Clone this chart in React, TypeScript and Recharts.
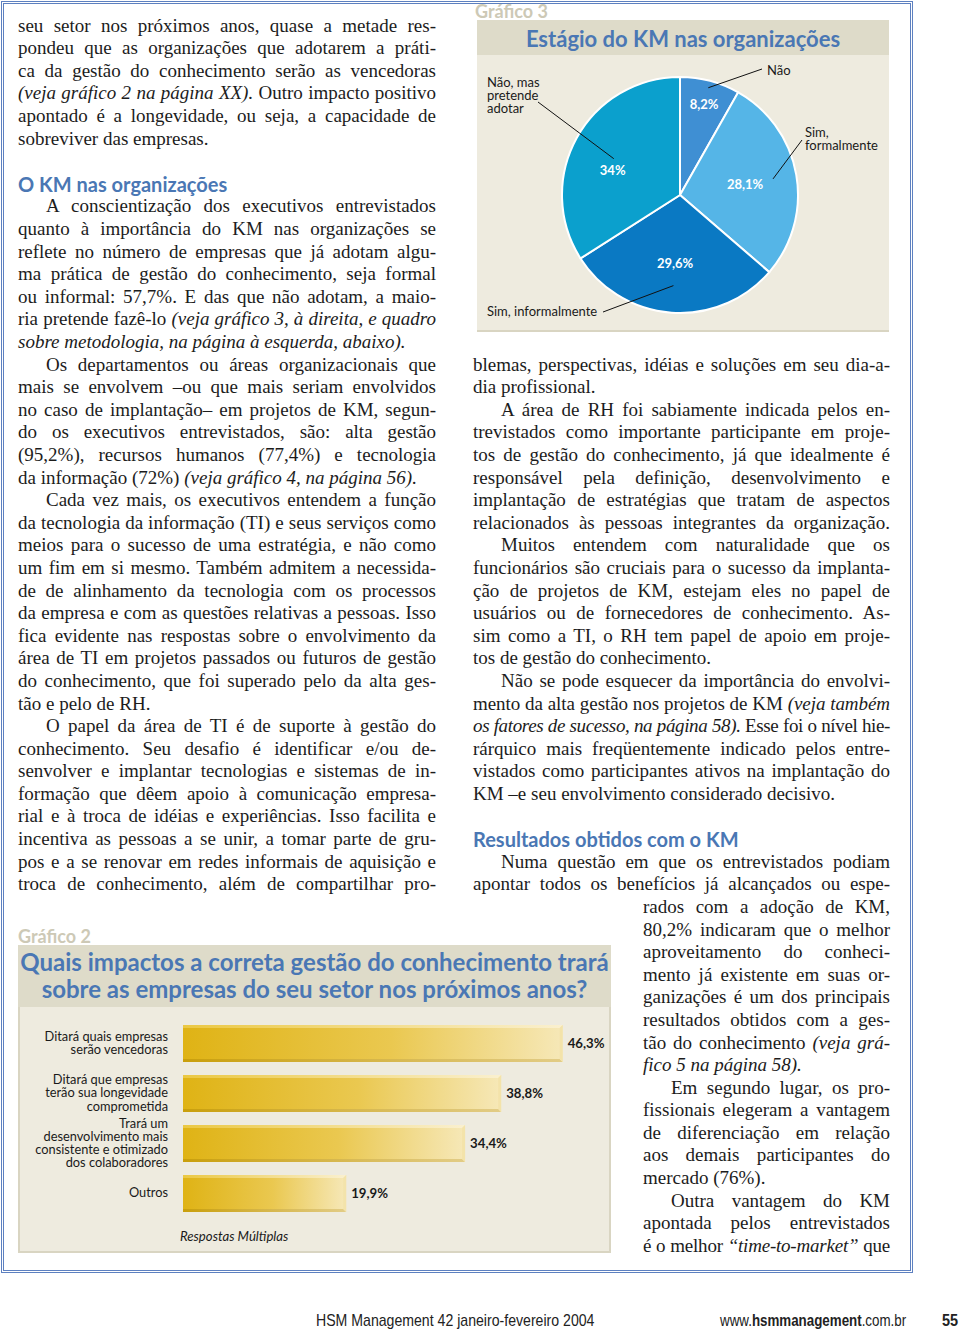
import React, { useLayoutEffect, useRef, useState } from "react";
import { PieChart, Pie, Cell, BarChart, Bar, XAxis, YAxis, LabelList } from "recharts";

// Gráfico 3 - estágio do KM
const stageNames = ["Não", "Sim,\nformalmente", "Sim, informalmente", "Não, mas\npretende\nadotar"];
const stageValues = [8.2, 28.1, 29.6, 34];
const stageLabels = ["8,2%", "28,1%", "29,6%", "34%"];
const stageColors = ["#3f8fd3", "#55b5e7", "#0a79c3", "#0ba0cd"];

// Gráfico 2 - impactos
const impactNames = [
  "Ditará quais empresas\nserão vencedoras",
  "Ditará que empresas\nterão sua longevidade\ncomprometida",
  "Trará um\ndesenvolvimento mais\nconsistente e otimizado\ndos colaboradores",
  "Outros",
];
const impactValues = [46.3, 38.8, 34.4, 19.9];
const impactLabels = ["46,3%", "38,8%", "34,4%", "19,9%"];

const stageData = stageNames.map((name, i) => ({ name, value: stageValues[i], label: stageLabels[i] }));
const impactData = impactNames.map((name, i) => ({ name, value: impactValues[i], label: impactLabels[i] }));

const BLUE = "#4a77b4";
const SANS = "Lato, 'Open Sans', sans-serif";
const SERIF = "'Liberation Serif', 'DejaVu Serif', serif";
const FOOT = "'Liberation Sans', Arial, sans-serif";
const LH = 22.6;
const BAND = "#dedbc9";
const BODY = "#eeebdf";

type Line = { t: string; k?: "l" | "h"; ind?: boolean; nar?: boolean };

const leftLines: Line[] = [
  { t: "seu setor nos próximos anos, quase a metade res-" },
  { t: "pondeu que as organizações que adotarem a práti-" },
  { t: "ca da gestão do conhecimento serão as vencedoras" },
  { t: "*(veja gráfico 2 na página XX).* Outro impacto positivo" },
  { t: "apontado é a longevidade, ou seja, a capacidade de" },
  { t: "sobreviver das empresas.", k: "l" },
  { t: "", k: "l" },
  { t: "O KM nas organizações", k: "h" },
  { t: "A conscientização dos executivos entrevistados", ind: true },
  { t: "quanto à importância do KM nas organizações se" },
  { t: "reflete no número de empresas que já adotam algu-" },
  { t: "ma prática de gestão do conhecimento, seja formal" },
  { t: "ou informal: 57,7%. E das que não adotam, a maio-" },
  { t: "ria pretende fazê-lo *(veja gráfico 3, à direita, e quadro*" },
  { t: "*sobre metodologia, na página à esquerda, abaixo).*", k: "l" },
  { t: "Os departamentos ou áreas organizacionais que", ind: true },
  { t: "mais se envolvem –ou que mais seriam envolvidos" },
  { t: "no caso de implantação– em projetos de KM, segun-" },
  { t: "do os executivos entrevistados, são: alta gestão" },
  { t: "(95,2%), recursos humanos (77,4%) e tecnologia" },
  { t: "da informação (72%) *(veja gráfico 4, na página 56).*", k: "l" },
  { t: "Cada vez mais, os executivos entendem a função", ind: true },
  { t: "da tecnologia da informação (TI) e seus serviços como" },
  { t: "meios para o sucesso de uma estratégia, e não como" },
  { t: "um fim em si mesmo. Também admitem a necessida-" },
  { t: "de de alinhamento da tecnologia com os processos" },
  { t: "da empresa e com as questões relativas a pessoas. Isso" },
  { t: "fica evidente nas respostas sobre o envolvimento da" },
  { t: "área de TI em projetos passados ou futuros de gestão" },
  { t: "do conhecimento, que foi superado pelo da alta ges-" },
  { t: "tão e pelo de RH.", k: "l" },
  { t: "O papel da área de TI é de suporte à gestão do", ind: true },
  { t: "conhecimento. Seu desafio é identificar e/ou de-" },
  { t: "senvolver e implantar tecnologias e sistemas de in-" },
  { t: "formação que dêem apoio à comunicação empresa-" },
  { t: "rial e à troca de idéias e experiências. Isso facilita e" },
  { t: "incentiva as pessoas a se unir, a tomar parte de gru-" },
  { t: "pos e a se renovar em redes informais de aquisição e" },
  { t: "troca de conhecimento, além de compartilhar pro-" },
];

const rightLines: Line[] = [
  { t: "blemas, perspectivas, idéias e soluções em seu dia-a-" },
  { t: "dia profissional.", k: "l" },
  { t: "A área de RH foi sabiamente indicada pelos en-", ind: true },
  { t: "trevistados como importante participante em proje-" },
  { t: "tos de gestão do conhecimento, já que idealmente é" },
  { t: "responsável pela definição, desenvolvimento e" },
  { t: "implantação de estratégias que tratam de aspectos" },
  { t: "relacionados às pessoas integrantes da organização." },
  { t: "Muitos entendem com naturalidade que os", ind: true },
  { t: "funcionários são cruciais para o sucesso da implanta-" },
  { t: "ção de projetos de KM, estejam eles no papel de" },
  { t: "usuários ou de fornecedores de conhecimento. As-" },
  { t: "sim como a TI, o RH tem papel de apoio em proje-" },
  { t: "tos de gestão do conhecimento.", k: "l" },
  { t: "Não se pode esquecer da importância do envolvi-", ind: true },
  { t: "mento da alta gestão nos projetos de KM *(veja também*" },
  { t: "*os fatores de sucesso, na página 58).* Esse foi o nível hie-" },
  { t: "rárquico mais freqüentemente indicado pelos entre-" },
  { t: "vistados como participantes ativos na implantação do" },
  { t: "KM –e seu envolvimento considerado decisivo.", k: "l" },
  { t: "", k: "l" },
  { t: "Resultados obtidos com o KM", k: "h" },
  { t: "Numa questão em que os entrevistados podiam", ind: true },
  { t: "apontar todos os benefícios já alcançados ou espe-" },
  { t: "rados com a adoção de KM,", nar: true },
  { t: "80,2% indicaram que o melhor", nar: true },
  { t: "aproveitamento do conheci-", nar: true },
  { t: "mento já existente em suas or-", nar: true },
  { t: "ganizações é um dos principais", nar: true },
  { t: "resultados obtidos com a ges-", nar: true },
  { t: "tão do conhecimento *(veja grá-*", nar: true },
  { t: "*fico 5 na página 58).*", k: "l", nar: true },
  { t: "Em segundo lugar, os pro-", ind: true, nar: true },
  { t: "fissionais elegeram a vantagem", nar: true },
  { t: "de diferenciação em relação", nar: true },
  { t: "aos demais participantes do", nar: true },
  { t: "mercado (76%).", k: "l", nar: true },
  { t: "Outra vantagem do KM", ind: true, nar: true },
  { t: "apontada pelos entrevistados", nar: true },
  { t: "é o melhor *“time-to-market”* que", nar: true },
];

function TextLine({ line }: { line: Line }) {
  const ref = useRef<HTMLDivElement>(null);
  const [ls, setLs] = useState(0);
  // squeeze lines that are wider than the column (the original is set tighter)
  useLayoutEffect(() => {
    const el = ref.current;
    if (!el || line.k === "h") return;
    const over = el.scrollWidth - el.clientWidth;
    if (over > 0) setLs(-(over + 2) / Math.max(1, line.t.length));
  }, []);
  if (line.k === "h") {
    return (
      <div style={{ height: LH, lineHeight: `${LH}px`, fontFamily: SANS, fontWeight: 700, fontSize: 20, color: BLUE, whiteSpace: "nowrap" }}>
        {line.t}
      </div>
    );
  }
  const align = line.k === "l" ? "left" : "justify";
  const parts = line.t.split("*");
  return (
    <div
      ref={ref}
      style={{
        height: LH,
        lineHeight: `${LH}px`,
        whiteSpace: "nowrap",
        textAlign: align,
        textAlignLast: align,
        textIndent: line.ind ? 28 : 0,
        marginLeft: line.nar ? 170 : 0,
        letterSpacing: ls,
      }}
    >
      {parts.map((s, i) => (i % 2 ? <i key={i}>{s}</i> : <span key={i}>{s}</span>))}
    </div>
  );
}

function Column({ lines, left, top, width }: { lines: Line[]; left: number; top: number; width: number }) {
  return (
    <div style={{ position: "absolute", left, top, width, fontFamily: SERIF, fontSize: 19, color: "#1c1c1c" }}>
      {lines.map((l, i) => (
        <TextLine key={i} line={l} />
      ))}
    </div>
  );
}

const RAD = Math.PI / 180;
// placement of the annotations (layout only)
const pctRadius = [0.8, 0.56, 0.58, 0.61];
const pctTurn = [0, 0, 0, 8];
const calloutStart = [0.94, 0.8, 0.77, 0.64];
const calloutEnd = [
  [82, -126],
  [122, -55],
  [-77, 117],
  [-142, -93],
];
const calloutText = [
  [87, -125],
  [125, -63],
  [-193, 116],
  [-193, -113],
];

const renderStageLabel = (p: any) => {
  const { cx, cy, midAngle, outerRadius, index } = p;
  const cos = Math.cos(-midAngle * RAD);
  const sin = Math.sin(-midAngle * RAD);
  const pa = -(midAngle + pctTurn[index]) * RAD;
  const rp = outerRadius * pctRadius[index];
  const rs = outerRadius * calloutStart[index];
  const [ex, ey] = calloutEnd[index];
  const [tx, ty] = calloutText[index];
  const lines = stageNames[index].split("\n");
  return (
    <g>
      <text x={cx + rp * Math.cos(pa)} y={cy + rp * Math.sin(pa)} textAnchor="middle" dominantBaseline="central" fill="#fff" fontFamily={SANS} fontWeight={700} fontSize={13}>
        {stageLabels[index]}
      </text>
      <line x1={cx + rs * cos} y1={cy + rs * sin} x2={cx + ex} y2={cy + ey} stroke="#111" strokeWidth={1} />
      <text fontFamily={SANS} fontSize={13} fill="#1a1a1a">
        {lines.map((l, i) => (
          <tspan key={i} x={cx + tx} y={cy + ty + i * 13} dy="0.35em">
            {l}
          </tspan>
        ))}
      </text>
    </g>
  );
};

const CatTick = (p: any) => {
  const { x, y, payload } = p;
  const lines = String(payload.value).split("\n");
  const lh = 13.2;
  const y0 = y - ((lines.length - 1) * lh) / 2;
  return (
    <text textAnchor="end" fontFamily={SANS} fontSize={12.8} fill="#1a1a1a">
      {lines.map((l, i) => (
        <tspan key={i} x={x} y={y0 + i * lh} dy="0.35em">
          {l}
        </tspan>
      ))}
    </text>
  );
};

const GoldBar = (p: any) => {
  const { x, y, width, height } = p;
  const e = 3;
  const r = x + width;
  const b = y + height;
  return (
    <g>
      <rect x={x} y={y} width={width} height={height} fill="url(#goldFill)" />
      <polygon points={`${x},${y} ${r},${y} ${r - e},${y + e} ${x},${y + e}`} fill="url(#goldTop)" />
      <polygon points={`${x},${b} ${r},${b} ${r - e},${b - e} ${x},${b - e}`} fill="url(#goldBottom)" />
      <polygon points={`${r},${y} ${r},${b} ${r - e},${b - e} ${r - e},${y + e}`} fill="#f3e3aa" />
    </g>
  );
};

const footStyle: React.CSSProperties = {
  position: "absolute",
  top: 1311,
  fontFamily: FOOT,
  fontSize: 17,
  color: "#222",
  whiteSpace: "nowrap",
  transformOrigin: "left top",
};

export default function App() {
  return (
    <div style={{ position: "absolute", left: 0, top: 0, width: 960, height: 1333, background: "#fff", overflow: "hidden" }}>
      {/* page frame */}
      <div style={{ position: "absolute", left: 1, top: 1, width: 912, height: 1272, boxSizing: "border-box", border: "3px double #5d80c0" }} />

      <Column lines={leftLines} left={18} top={26 - LH / 2} width={418} />
      <Column lines={rightLines} left={473} top={365 - LH / 2} width={417} />

      {/* Gráfico 3 */}
      <div style={{ position: "absolute", left: 475, top: 0, fontFamily: SANS, fontWeight: 700, fontSize: 18, color: "#cdc9b6", lineHeight: "22px" }}>
        Gráfico 3
      </div>
      <div style={{ position: "absolute", left: 477, top: 20, width: 412, height: 35, background: BAND }} />
      <div style={{ position: "absolute", left: 477, top: 55, width: 412, height: 275, background: BODY, borderBottom: "2px solid #d9d5c2" }} />
      <div style={{ position: "absolute", left: 477, top: 21, width: 412, height: 35, lineHeight: "35px", textAlign: "center", fontFamily: SANS, fontWeight: 700, fontSize: 22, color: BLUE }}>
        Estágio do KM nas organizações
      </div>
      <div style={{ position: "absolute", left: 473, top: 0 }}>
        <PieChart width={417} height={330} margin={{ top: 0, right: 0, bottom: 0, left: 0 }}>
          <Pie
            data={stageData}
            dataKey="value"
            cx={207}
            cy={195}
            outerRadius={118}
            startAngle={90}
            endAngle={-270}
            stroke="#fff"
            strokeWidth={2}
            label={renderStageLabel}
            labelLine={false}
            isAnimationActive={false}
          >
            {stageData.map((d, i) => (
              <Cell key={d.name} fill={stageColors[i]} />
            ))}
          </Pie>
        </PieChart>
      </div>

      {/* Gráfico 2 */}
      <div style={{ position: "absolute", left: 18, top: 925, fontFamily: SANS, fontWeight: 700, fontSize: 18, color: "#cdc9b6", lineHeight: "22px" }}>
        Gráfico 2
      </div>
      <div style={{ position: "absolute", left: 18, top: 945, width: 593, height: 62, background: BAND }} />
      <div style={{ position: "absolute", left: 18, top: 1007, width: 593, height: 246, background: BODY, boxSizing: "border-box", border: "2px solid #d9d5c2", borderTop: "none" }} />
      <div style={{ position: "absolute", left: 18, top: 948, width: 593, textAlign: "center", fontFamily: SANS, fontWeight: 700, fontSize: 24, lineHeight: "27px", color: BLUE }}>
        Quais impactos a correta gestão do conhecimento trará
        <br />
        sobre as empresas do seu setor nos próximos anos?
      </div>
      <div style={{ position: "absolute", left: 18, top: 1010 }}>
        <BarChart width={592} height={216} data={impactData} layout="vertical" margin={{ top: 8, right: 17, bottom: 8, left: 0 }} barSize={37}>
          <defs>
            <linearGradient id="goldFill" x1="0" y1="0" x2="1" y2="0">
              <stop offset="0%" stopColor="#dfb315" />
              <stop offset="55%" stopColor="#eac850" />
              <stop offset="100%" stopColor="#f6e8b8" />
            </linearGradient>
            <linearGradient id="goldTop" x1="0" y1="0" x2="1" y2="0">
              <stop offset="0%" stopColor="#ebc843" />
              <stop offset="100%" stopColor="#faf0cf" />
            </linearGradient>
            <linearGradient id="goldBottom" x1="0" y1="0" x2="1" y2="0">
              <stop offset="0%" stopColor="#c99f0c" />
              <stop offset="100%" stopColor="#e2cc86" />
            </linearGradient>
          </defs>
          <XAxis type="number" domain={[0, 50]} hide />
          <YAxis type="category" dataKey="name" width={165} axisLine={false} tickLine={false} tickSize={0} tickMargin={15} interval={0} tick={<CatTick />} />
          <Bar dataKey="value" shape={<GoldBar />} isAnimationActive={false}>
            <LabelList dataKey="label" position="right" offset={5} fontFamily={SANS} fontWeight={700} fontSize={13.2} fill="#1a1a1a" />
          </Bar>
        </BarChart>
      </div>
      <div style={{ position: "absolute", left: 180, top: 1228, fontFamily: SANS, fontStyle: "italic", fontSize: 13.2, color: "#1a1a1a" }}>
        Respostas Múltiplas
      </div>

      {/* rodapé */}
      <div style={{ ...footStyle, left: 316, transform: "scaleX(0.83)" }}>HSM Management 42 janeiro-fevereiro 2004</div>
      <div style={{ ...footStyle, left: 720, transform: "scaleX(0.785)" }}>
        www.<b>hsmmanagement</b>.com.br
      </div>
      <div style={{ ...footStyle, left: 942, fontWeight: 700, transform: "scaleX(0.85)" }}>55</div>
    </div>
  );
}
